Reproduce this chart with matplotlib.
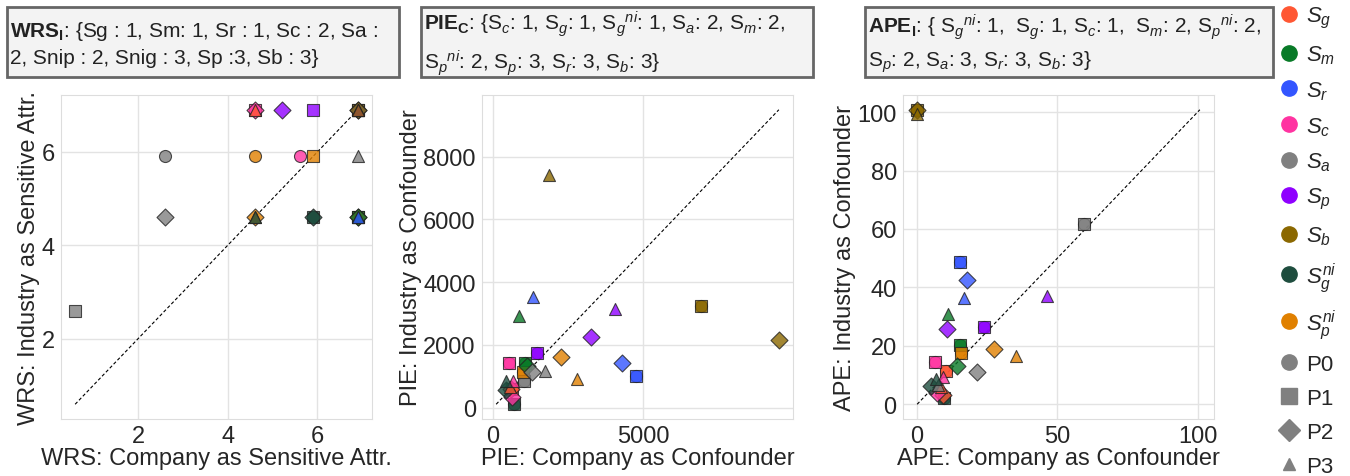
import matplotlib
matplotlib.use("Agg")
import matplotlib.pyplot as plt
import seaborn as sns
from matplotlib.lines import Line2D
from matplotlib.patches import Rectangle

sns.set_style("whitegrid")
plt.rcParams["font.family"] = ["Liberation Sans", "DejaVu Sans"]
plt.rcParams["mathtext.fontset"] = "custom"
plt.rcParams["mathtext.rm"] = "Liberation Sans"
plt.rcParams["mathtext.it"] = "Liberation Sans:italic"
plt.rcParams["mathtext.bf"] = "Liberation Sans:bold"

# strategies and their colours
strategies = ["Sg", "Sm", "Sr", "Sc", "Sa", "Sp", "Sb", "Sgni", "Spni"]
strategy_labels = [r"$S_g$", r"$S_m$", r"$S_r$", r"$S_c$", r"$S_a$", r"$S_p$",
                   r"$S_b$", r"$S_g^{ni}$", r"$S_p^{ni}$"]
colors = ["#FF5733", "#087A27", "#3355FF", "#FF33A1", "#808080", "#8F00FF",
          "#8B6800", "#1E4D3E", "#E08000"]
prompts = ["P0", "P1", "P2", "P3"]
markers = ["o", "s", "D", "^"]

# values per strategy, one entry per prompt P0..P3
wrs_company = [[6.9, 6.9, 6.9, 4.6], [6.9, 6.9, 6.9, 6.9], [6.9, 6.9, 6.9, 6.9],
               [5.6, 4.6, 4.6, 6.9], [2.6, 0.6, 2.6, 6.9], [6.9, 5.9, 5.2, 6.9],
               [6.9, 6.9, 6.9, 6.9], [5.9, 5.9, 5.9, 4.6], [4.6, 5.9, 4.6, 4.6]]
wrs_industry = [[4.6, 4.6, 4.6, 6.9], [4.6, 4.6, 4.6, 4.6], [6.9, 6.9, 6.9, 4.6],
                [5.9, 6.9, 6.9, 6.9], [5.9, 2.6, 4.6, 5.9], [6.9, 6.9, 6.9, 6.9],
                [6.9, 6.9, 6.9, 6.9], [4.6, 4.6, 4.6, 4.6], [5.9, 5.9, 4.6, 4.6]]

pie_company = [[620, 620, 590, 560], [1060, 1060, 1125, 872], [4766, 4766, 4303, 1335],
               [520, 520, 630, 673], [1015, 1015, 1313, 1721], [1478, 1478, 3255, 4070],
               [6920, 6920, 9500, 1865], [706, 706, 430, 430], [1000, 1000, 2262, 2780]]
pie_industry = [[600, 600, 580, 640], [1410, 1410, 1333, 2930], [1018, 1018, 1428, 3520],
                [1428, 1428, 336, 861], [861, 861, 1124, 1176], [1742, 1742, 2258, 3150],
                [3245, 3245, 2142, 7425], [105, 105, 546, 861], [1150, 1150, 1628, 913]]

ape_company = [[10.3, 10.3, 9.1, 8.5], [15.3, 15.3, 14.1, 10.9], [15.3, 15.3, 17.9, 16.6],
               [6.3, 6.3, 7.2, 9.3], [59.4, 59.4, 21.3, 7.5], [23.9, 23.9, 10.7, 46.4],
               [0.0, 0.0, 0.0, 0.0], [9.6, 9.6, 4.9, 6.7], [15.6, 15.6, 27.5, 35.3]]
ape_industry = [[11.5, 11.5, 3.1, 6.0], [20.3, 20.3, 13.2, 30.9], [48.7, 48.7, 42.7, 36.4],
                [14.5, 14.5, 4.0, 9.2], [61.6, 61.6, 11.1, 6.5], [26.3, 26.3, 25.8, 37.0],
                [100.8, 100.8, 100.8, 99.3], [2.0, 2.0, 6.3, 8.6], [17.4, 17.4, 18.9, 16.4]]

draw_order = [0, 1, 2, 3, 4, 5, 6, 8, 7]

panels = [
    (wrs_company, wrs_industry, "WRS: Company as Sensitive Attr.",
     "WRS: Industry as Sensitive Attr.", [2, 4, 6], [2, 4, 6]),
    (pie_company, pie_industry, "PIE: Company as Confounder",
     "PIE: Industry as Confounder", [0, 5000], [0, 2000, 4000, 6000, 8000]),
    (ape_company, ape_industry, "APE: Company as Confounder",
     "APE: Industry as Confounder", [0, 50, 100], [0, 20, 40, 60, 80, 100]),
]

box_texts = [
    r"$\mathbf{WRS_I}$: {Sg : 1, Sm: 1, Sr : 1, Sc : 2, Sa :" "\n"
    r"2, Snip : 2, Snig : 3, Sp :3, Sb : 3}",
    r"$\mathbf{PIE_C}$: {S$_c$: 1, S$_g$: 1, S$_g$$^{ni}$: 1, S$_a$: 2, S$_m$: 2," "\n"
    r"S$_p$$^{ni}$: 2, S$_p$: 3, S$_r$: 3, S$_b$: 3}",
    r"$\mathbf{APE_I}$: { S$_g$$^{ni}$: 1,  S$_g$: 1, S$_c$: 1,  S$_m$: 2, S$_p$$^{ni}$: 2," "\n"
    r"S$_p$: 2, S$_a$: 3, S$_r$: 3, S$_b$: 3}",
]

fig = plt.figure(figsize=(13.5, 4.77), dpi=100)
ax_lefts = [61, 482, 903]
box_spans = [(7, 399), (421, 813), (865, 1273)]

for k, (xs, ys, xlabel, ylabel, xt, yt) in enumerate(panels):
    ax = fig.add_axes([ax_lefts[k] / 1350, 1 - 420 / 477, 311 / 1350, 324 / 477])
    for p in range(4):
        for s in draw_order:
            ax.scatter(xs[s][p], ys[s][p], s=75, marker=markers[p], color=colors[s],
                       alpha=0.8, edgecolors="#222222", linewidths=0.8, zorder=3)
    allv = [v for row in xs + ys for v in row]
    lo, hi = min(allv), max(allv)
    ax.plot([lo, hi], [lo, hi], "k--", linewidth=0.8, dashes=(3, 2), zorder=2)
    ax.set_xticks(xt)
    ax.set_yticks(yt)
    ax.tick_params(labelsize=17, colors="#262626", pad=1)
    ax.set_xlabel(xlabel, fontsize=17, color="#262626", labelpad=0)
    ax.set_ylabel(ylabel, fontsize=17, color="#262626", labelpad=1)
    for sp in ax.spines.values():
        sp.set_color("#dddddd")
    ax.grid(color="#e3e3e3", linewidth=1)

    # header box above each panel
    x0, x1 = box_spans[k]
    fig.patches.append(Rectangle((x0 / 1350, 1 - 78 / 477), (x1 - x0) / 1350, 70 / 477,
                                 transform=fig.transFigure, facecolor="#f3f3f3",
                                 edgecolor="#666666", linewidth=2))
    fig.text((x0 + 3) / 1350, 1 - 44 / 477, box_texts[k], fontsize=15, color="#222222",
             ha="left", va="center", linespacing=1.45)

handles = [Line2D([], [], marker="o", linestyle="", markersize=11, color=c) for c in colors]
handles += [Line2D([], [], marker=m, linestyle="", markersize=11 if m != "^" else 9,
                   color="#808080") for m in markers]
labels = strategy_labels + prompts
fig.legend(handles, labels, loc="upper left", bbox_to_anchor=(1262 / 1350, 1.01),
           frameon=False, fontsize=16, labelspacing=0.59, handletextpad=0.1,
           handlelength=1.4, borderaxespad=0.1)

fig.savefig("out.png", dpi=100)
